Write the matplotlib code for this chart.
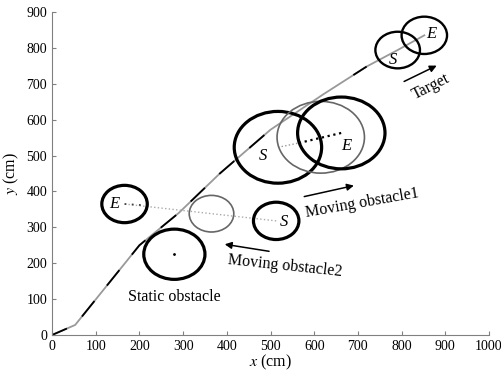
import matplotlib
matplotlib.use("Agg")
import matplotlib.pyplot as plt
from matplotlib.patches import Circle
import numpy as np

plt.rcParams['font.family'] = ['Liberation Serif', 'DejaVu Serif']
plt.rcParams['mathtext.fontset'] = 'stix'

# robot path (cm)
path_x = [0, 53, 200, 290, 384, 500, 620, 720, 791, 852]
path_y = [0, 28, 250, 340, 450, 572, 670, 748, 794, 835]

# obstacles / target circles: (x, y, r)
static_obs = (280, 225, 70)
obs1_start = (517, 523, 100)
obs1_mid = (615, 551, 100)
obs1_end = (662, 563, 100)
obs2_start = (513, 318, 52)
obs2_mid = (365, 338, 51)
obs2_end = (166, 365, 52)
target_start = (791, 794, 51)
target_end = (852, 835, 52)

GRAY = '#999999'

fig = plt.figure(figsize=(5.02, 3.76), dpi=100)
ax = fig.add_axes([52/502, 41/376, 437/502, 323/376])

# path: gray line with black dashes on top (lower part)
ax.plot(path_x, path_y, color=GRAY, lw=1.3, zorder=2)
ax.plot(path_x[:6], path_y[:6], color='k', lw=1.3, ls=(2, (11, 11)), zorder=2)
ax.plot(path_x[6:8], path_y[6:8], color='k', lw=1.3, ls=(30, (10, 40)), zorder=2)

def circ(c, color='k', lw=2.3):
    ax.add_patch(Circle((c[0], c[1]), c[2], fill=False, ec=color, lw=lw, zorder=3))

circ(static_obs)
ax.plot(static_obs[0], static_obs[1], 'k.', ms=2)

circ(obs1_start)
circ(obs1_mid, color='#666666', lw=1.2)
circ(obs1_end)
ax.plot([obs1_start[0], 565], [obs1_start[1], 535], color='#999999', lw=1, ls=':')
ax.plot([565, obs1_end[0]], [535, obs1_end[1]], color='k', lw=1.6, ls=':')

circ(obs2_start)
circ(obs2_mid, color='#666666', lw=1.2)
circ(obs2_end)
ax.plot([obs2_start[0], obs2_end[0]], [obs2_start[1], obs2_end[1]],
        color='#aaaaaa', lw=1, ls=':')
ax.plot([obs2_end[0], 205], [obs2_end[1], 362], color='#444444', lw=1.3, ls=(0, (1, 3)))

circ(target_start, lw=1.7)
circ(target_end, lw=1.7)

# S / E labels
it = dict(fontstyle='italic', fontsize=12, ha='center', va='center', zorder=4)
ax.text(483, 499, 'S', **it)
ax.text(673, 528, 'E', **it)
ax.text(530, 314, 'S', **it)
ax.text(143, 365, 'E', **it)
ax.text(780, 767, 'S', **it)
ax.text(869, 838, 'E', **it)

# arrows and captions
arr = dict(arrowstyle='-|>', color='k', lw=1.1, mutation_scale=10)
ax.annotate('', xy=(886, 754), xytext=(800, 703), arrowprops=arr)
ax.text(866, 692, 'Target', fontsize=11.5, rotation=27, ha='center', va='center')
ax.annotate('', xy=(697, 418), xytext=(571, 384), arrowprops=arr)
ax.text(710, 366, 'Moving obstacle1', fontsize=11.5, rotation=10, ha='center', va='center')
ax.annotate('', xy=(389, 254), xytext=(503, 232), arrowprops=arr)
ax.text(532, 193, 'Moving obstacle2', fontsize=11.5, rotation=-6, ha='center', va='center')
ax.text(280, 106, 'Static obstacle', fontsize=11.5, ha='center', va='center')

ax.set_xlim(0, 1000)
ax.set_ylim(0, 900)
ax.set_xticks(np.arange(0, 1001, 100))
ax.set_yticks(np.arange(0, 901, 100))
for s in ['top', 'right']:
    ax.spines[s].set_visible(False)
for s in ['left', 'bottom']:
    ax.spines[s].set_color('#808080')
    ax.spines[s].set_linewidth(0.8)
ax.tick_params(direction='in', length=3, color='#808080', labelsize=10)
ax.set_xlabel('$x$ (cm)', fontsize=11.5, labelpad=0)
ax.set_ylabel('$y$ (cm)', fontsize=11.5, labelpad=4)

fig.savefig('out.png', dpi=100)
